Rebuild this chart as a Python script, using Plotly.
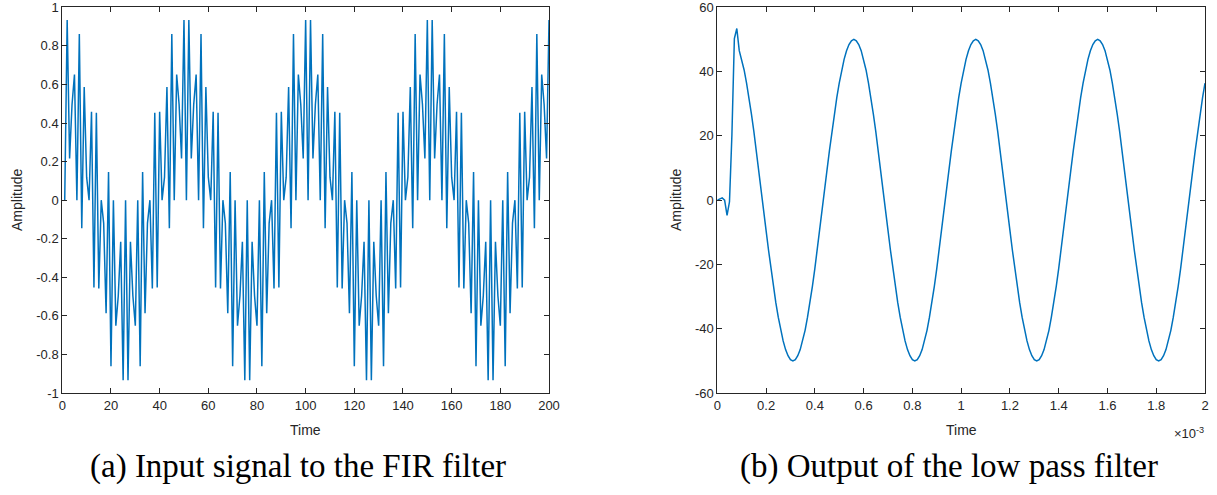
import numpy as np
import plotly.graph_objects as go

# ---------------- data ----------------
# (a) input signal, samples 1..200
input_signal = [
    0, 0.934, 0.216, 0.496, 0.651, 0, 0.861, -0.146, 0.587, 0.119,
    0, 0.458, -0.453, 0.453, -0.458, 0, -0.119, -0.587, 0.146, -0.861,
    0, -0.651, -0.496, -0.216, -0.934, 0, -0.934, -0.216, -0.496, -0.651,
    0, -0.861, 0.146, -0.587, -0.119, 0, -0.458, 0.453, -0.453, 0.458,
    0, 0.119, 0.587, -0.146, 0.861, 0, 0.651, 0.496, 0.216, 0.934,
    0, 0.934, 0.216, 0.496, 0.651, 0, 0.861, -0.146, 0.587, 0.119,
    0, 0.458, -0.453, 0.453, -0.458, 0, -0.119, -0.587, 0.146, -0.861,
    0, -0.651, -0.496, -0.216, -0.934, 0, -0.934, -0.216, -0.496, -0.651,
    0, -0.861, 0.146, -0.587, -0.119, 0, -0.458, 0.453, -0.453, 0.458,
    0, 0.119, 0.587, -0.146, 0.861, 0, 0.651, 0.496, 0.216, 0.934,
    0, 0.934, 0.216, 0.496, 0.651, 0, 0.861, -0.146, 0.587, 0.119,
    0, 0.458, -0.453, 0.453, -0.458, 0, -0.119, -0.587, 0.146, -0.861,
    0, -0.651, -0.496, -0.216, -0.934, 0, -0.934, -0.216, -0.496, -0.651,
    0, -0.861, 0.146, -0.587, -0.119, 0, -0.458, 0.453, -0.453, 0.458,
    0, 0.119, 0.587, -0.146, 0.861, 0, 0.651, 0.496, 0.216, 0.934,
    0, 0.934, 0.216, 0.496, 0.651, 0, 0.861, -0.146, 0.587, 0.119,
    0, 0.458, -0.453, 0.453, -0.458, 0, -0.119, -0.587, 0.146, -0.861,
    0, -0.651, -0.496, -0.216, -0.934, 0, -0.934, -0.216, -0.496, -0.651,
    0, -0.861, 0.146, -0.587, -0.119, 0, -0.458, 0.453, -0.453, 0.458,
    0, 0.119, 0.587, -0.146, 0.861, 0, 0.651, 0.496, 0.216, 0.934,
]
input_index = list(range(1, len(input_signal) + 1))

# (b) output of the low pass filter, sampled at 100 kHz (t = 0 .. 2 ms)
sample_rate = 100000
output_signal = [
    0, 0.3, 0.7, 0.0, -4.7, -0.5, 20.5, 50.3, 53.4,
    46.5, 43.8, 40.5, 36.4, 31.9, 26.8, 21.3, 15.5, 9.4, 3.1,
    -3.1, -9.4, -15.5, -21.3, -26.8, -31.9, -36.4, -40.5, -43.8, -46.5,
    -48.4, -49.6, -50.0, -49.6, -48.4, -46.5, -43.8, -40.5, -36.4, -31.9,
    -26.8, -21.3, -15.5, -9.4, -3.1, 3.1, 9.4, 15.5, 21.3, 26.8,
    31.9, 36.4, 40.5, 43.8, 46.5, 48.4, 49.6,
    50.0, 49.6, 48.4, 46.5, 43.8, 40.5, 36.4, 31.9, 26.8, 21.3,
    15.5, 9.4, 3.1, -3.1, -9.4, -15.5, -21.3, -26.8, -31.9, -36.4,
    -40.5, -43.8, -46.5, -48.4, -49.6, -50.0, -49.6, -48.4, -46.5, -43.8,
    -40.5, -36.4, -31.9, -26.8, -21.3, -15.5, -9.4, -3.1, 3.1, 9.4,
    15.5, 21.3, 26.8, 31.9, 36.4, 40.5, 43.8, 46.5, 48.4, 49.6,
    50.0, 49.6, 48.4, 46.5, 43.8, 40.5, 36.4, 31.9, 26.8, 21.3,
    15.5, 9.4, 3.1, -3.1, -9.4, -15.5, -21.3, -26.8, -31.9, -36.4,
    -40.5, -43.8, -46.5, -48.4, -49.6, -50.0, -49.6, -48.4, -46.5, -43.8,
    -40.5, -36.4, -31.9, -26.8, -21.3, -15.5, -9.4, -3.1, 3.1, 9.4,
    15.5, 21.3, 26.8, 31.9, 36.4, 40.5, 43.8, 46.5, 48.4, 49.6,
    50.0, 49.6, 48.4, 46.5, 43.8, 40.5, 36.4, 31.9, 26.8, 21.3,
    15.5, 9.4, 3.1, -3.1, -9.4, -15.5, -21.3, -26.8, -31.9, -36.4,
    -40.5, -43.8, -46.5, -48.4, -49.6, -50.0, -49.6, -48.4, -46.5, -43.8,
    -40.5, -36.4, -31.9, -26.8, -21.3, -15.5, -9.4, -3.1, 3.1, 9.4,
    15.5, 21.3, 26.8, 31.9, 36.4,
]
output_time = np.arange(len(output_signal)) / sample_rate

# tick labels
left_xticks = [0, 20, 40, 60, 80, 100, 120, 140, 160, 180, 200]
left_yticks = [-1, -0.8, -0.6, -0.4, -0.2, 0, 0.2, 0.4, 0.6, 0.8, 1]
left_yticklabels = ["-1", "-0.8", "-0.6", "-0.4", "-0.2", "0", "0.2", "0.4", "0.6", "0.8", "1"]
right_xticks = [0, 0.0002, 0.0004, 0.0006, 0.0008, 0.001, 0.0012, 0.0014, 0.0016, 0.0018, 0.002]
right_xticklabels = ["0", "0.2", "0.4", "0.6", "0.8", "1", "1.2", "1.4", "1.6", "1.8", "2"]
right_yticks = [-60, -40, -20, 0, 20, 40, 60]
right_yticklabels = ["-60", "-40", "-20", "0", "20", "40", "60"]

captions = ["(a) Input signal to the FIR filter", "(b) Output of the low pass filter"]

# ---------------- figure ----------------
W, H = 1217, 495
LINE = "#0072BD"
AX = "#262626"

def px(x):
    return x / W

def py(y):
    return 1 - y / H

fig = go.Figure()
fig.add_trace(go.Scatter(x=input_index, y=input_signal, mode="lines",
                         line=dict(color=LINE, width=1.5), xaxis="x", yaxis="y",
                         showlegend=False))
fig.add_trace(go.Scatter(x=output_time, y=output_signal, mode="lines",
                         line=dict(color=LINE, width=1.5), xaxis="x2", yaxis="y2",
                         showlegend=False))

axis_common = dict(showline=True, linecolor=AX, linewidth=1, mirror="allticks",
                   ticks="inside", ticklen=5, tickcolor=AX, tickwidth=1,
                   showgrid=False, zeroline=False, automargin=False,
                   ticklabeloverflow="allow",
                   tickfont=dict(family="Liberation Sans, Arial", size=13, color=AX))

yd = [py(393), py(7.3)]
fig.update_layout(
    width=W, height=H, margin=dict(l=0, r=0, t=0, b=0, autoexpand=False),
    paper_bgcolor="white", plot_bgcolor="white",
    xaxis=dict(domain=[px(62.3), px(549)], range=[0, 200], tickmode="array",
               tickvals=left_xticks, ticktext=[str(v) for v in left_xticks],
               anchor="y", **axis_common),
    yaxis=dict(domain=yd, range=[-1, 1], tickmode="array", tickvals=left_yticks,
               ticktext=left_yticklabels, anchor="x", **axis_common),
    xaxis2=dict(domain=[px(717.3), px(1205)], range=[0, 0.002], tickmode="array",
                tickvals=right_xticks, ticktext=right_xticklabels, anchor="y2",
                **axis_common),
    yaxis2=dict(domain=yd, range=[-60, 60], tickmode="array", tickvals=right_yticks,
                ticktext=right_yticklabels, anchor="x2", **axis_common),
)

ann = []
lab_font = dict(family="Liberation Sans, Arial", size=14, color=AX)
ann.append(dict(text="Time", x=px(305.5), y=py(430), xref="paper", yref="paper",
                showarrow=False, font=lab_font, xanchor="center", yanchor="middle"))
ann.append(dict(text="Time", x=px(961), y=py(430), xref="paper", yref="paper",
                showarrow=False, font=lab_font, xanchor="center", yanchor="middle"))
ann.append(dict(text="Amplitude", x=px(17), y=py(200), xref="paper", yref="paper",
                showarrow=False, font=lab_font, textangle=-90,
                xanchor="center", yanchor="middle"))
ann.append(dict(text="Amplitude", x=px(676), y=py(200), xref="paper", yref="paper",
                showarrow=False, font=lab_font, textangle=-90,
                xanchor="center", yanchor="middle"))
ann.append(dict(text="×10<sup>-3</sup>", x=px(1206), y=py(433), xref="paper", yref="paper",
                showarrow=False, font=dict(family="Liberation Sans, Arial", size=13, color=AX),
                xanchor="right", yanchor="middle"))
cap_font = dict(family="Liberation Serif, Times New Roman, serif", size=33, color="black")
ann.append(dict(text=captions[0], x=px(297.5), y=py(466), xref="paper", yref="paper",
                showarrow=False, font=cap_font, xanchor="center", yanchor="middle"))
ann.append(dict(text=captions[1], x=px(949), y=py(466), xref="paper", yref="paper",
                showarrow=False, font=cap_font, xanchor="center", yanchor="middle"))
fig.update_layout(annotations=ann)

fig.write_html(
    "out.html",
    config={"displayModeBar": False},
    post_script="document.body.style.margin='0px';document.body.style.overflow='hidden';",
)
